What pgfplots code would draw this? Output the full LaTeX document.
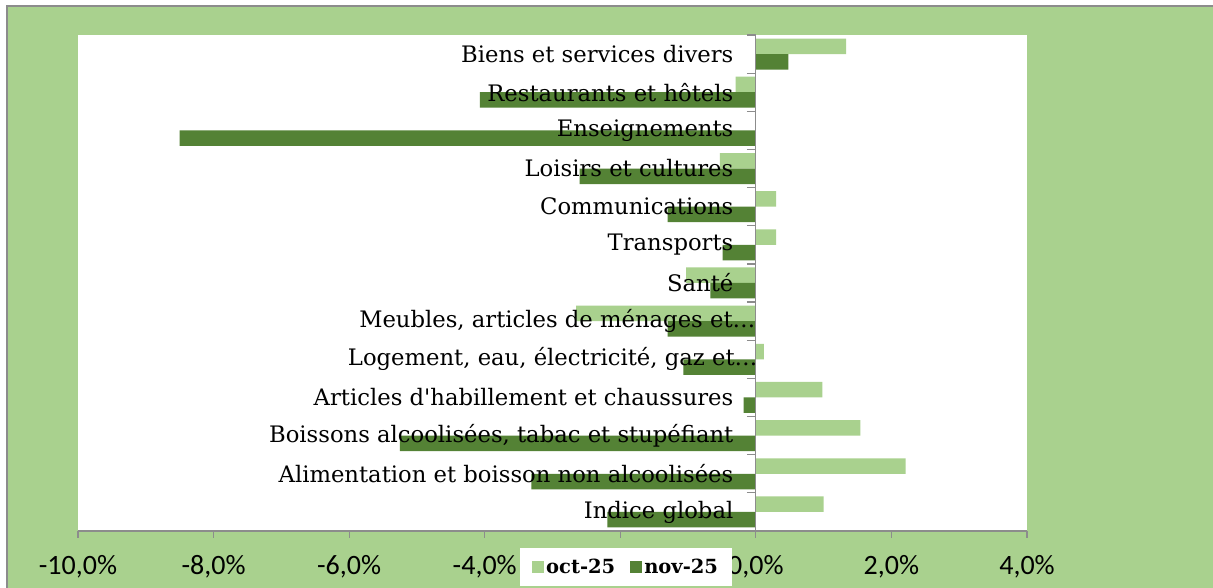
\documentclass[border=0pt]{standalone}
\usepackage{pgfplots}
\pgfplotsset{compat=1.18}
\usepackage{fontspec}
\setmainfont{DejaVu Serif}[Ligatures=TeXOff]
\newfontfamily\tickfont{Carlito}
\definecolor{bg}{HTML}{A9D18E}
\definecolor{octc}{HTML}{A9D18E}
\definecolor{novc}{HTML}{548235}
\definecolor{axgray}{HTML}{8C8C8C}
\pgfplotstableread{
idx oct nov
0 1.00 -2.19
1 2.21 -3.31
2 1.54 -5.25
3 0.98 -0.18
4 0.12 -1.07
5 -2.65 -1.30
6 -1.03 -0.67
7 0.30 -0.49
8 0.30 -1.30
9 -0.53 -2.60
10 0.00 -8.50
11 -0.30 -4.07
12 1.33 0.48
}\data
\begin{document}
\begin{tikzpicture}[x=1pt,y=1pt]
\useasboundingbox (0,0) rectangle (1213,588);
\fill[bg] (7,-20) rectangle (1240,582);
\draw[axgray, line width=1.6pt] (7,-20) -- (7,582) -- (1240,582);
\begin{axis}[
  at={(78pt,57pt)}, anchor=south west,
  width=949pt, height=496pt, scale only axis,
  xmin=-10, xmax=4, ymin=-0.5, ymax=12.5,
  axis on top,
  axis background/.style={fill=white},
  axis x line*=bottom,
  axis y line*=middle,
  axis line style={axgray, line width=1.2pt},
  xtick={-10,-8,...,4},
  xticklabels={-10{,}0\%,-8{,}0\%,-6{,}0\%,-4{,}0\%,{},0{,}0\%,2{,}0\%,4{,}0\%},
  xticklabel style={font=\tickfont\fontsize{28}{32}\selectfont, yshift=-14pt},
  x tick style={axgray, line width=1.2pt},
  tick align=outside,
  major tick length=7pt,
  minor tick length=9pt,
  ytick={0,...,12},
  minor ytick={-0.5,0.5,...,12.5},
  major y tick style={draw=none},
  minor y tick style={axgray, line width=1.2pt},
  yticklabels={Indice global,Alimentation et boisson non alcoolisées,Boissons alcoolisées{,} tabac et stupéfiant,Articles d'habillement et chaussures,{Logement, eau, électricité, gaz et\ldots\kern-24pt},{Meubles, articles de ménages et\ldots\kern-22pt},Santé,Transports,Communications,Loisirs et cultures,Enseignements,Restaurants et hôtels,Biens et services divers},
  yticklabel style={font=\fontsize{22.7}{26}\selectfont, anchor=east, xshift=-12pt},
  xbar, bar width=15.5pt,
  legend style={at={(0.4657,-0.0343)}, anchor=north west, draw=none, fill=white,
    legend columns=2, font=\bfseries\fontsize{19.5}{22}\selectfont,
    inner xsep=12pt, inner ysep=9pt,
    /tikz/every even column/.append style={column sep=13pt}},
  legend image code/.code={\fill[#1] (0pt,-6pt) rectangle (12pt,6pt);},
]
\addplot[fill=octc, draw=none, bar shift=7.75pt] table[x=oct, y=idx] {\data};
\addplot[fill=novc, draw=none, bar shift=-7.75pt] table[x=nov, y=idx] {\data};
\legend{oct-25, nov-25}
\end{axis}
\end{tikzpicture}
\end{document}
